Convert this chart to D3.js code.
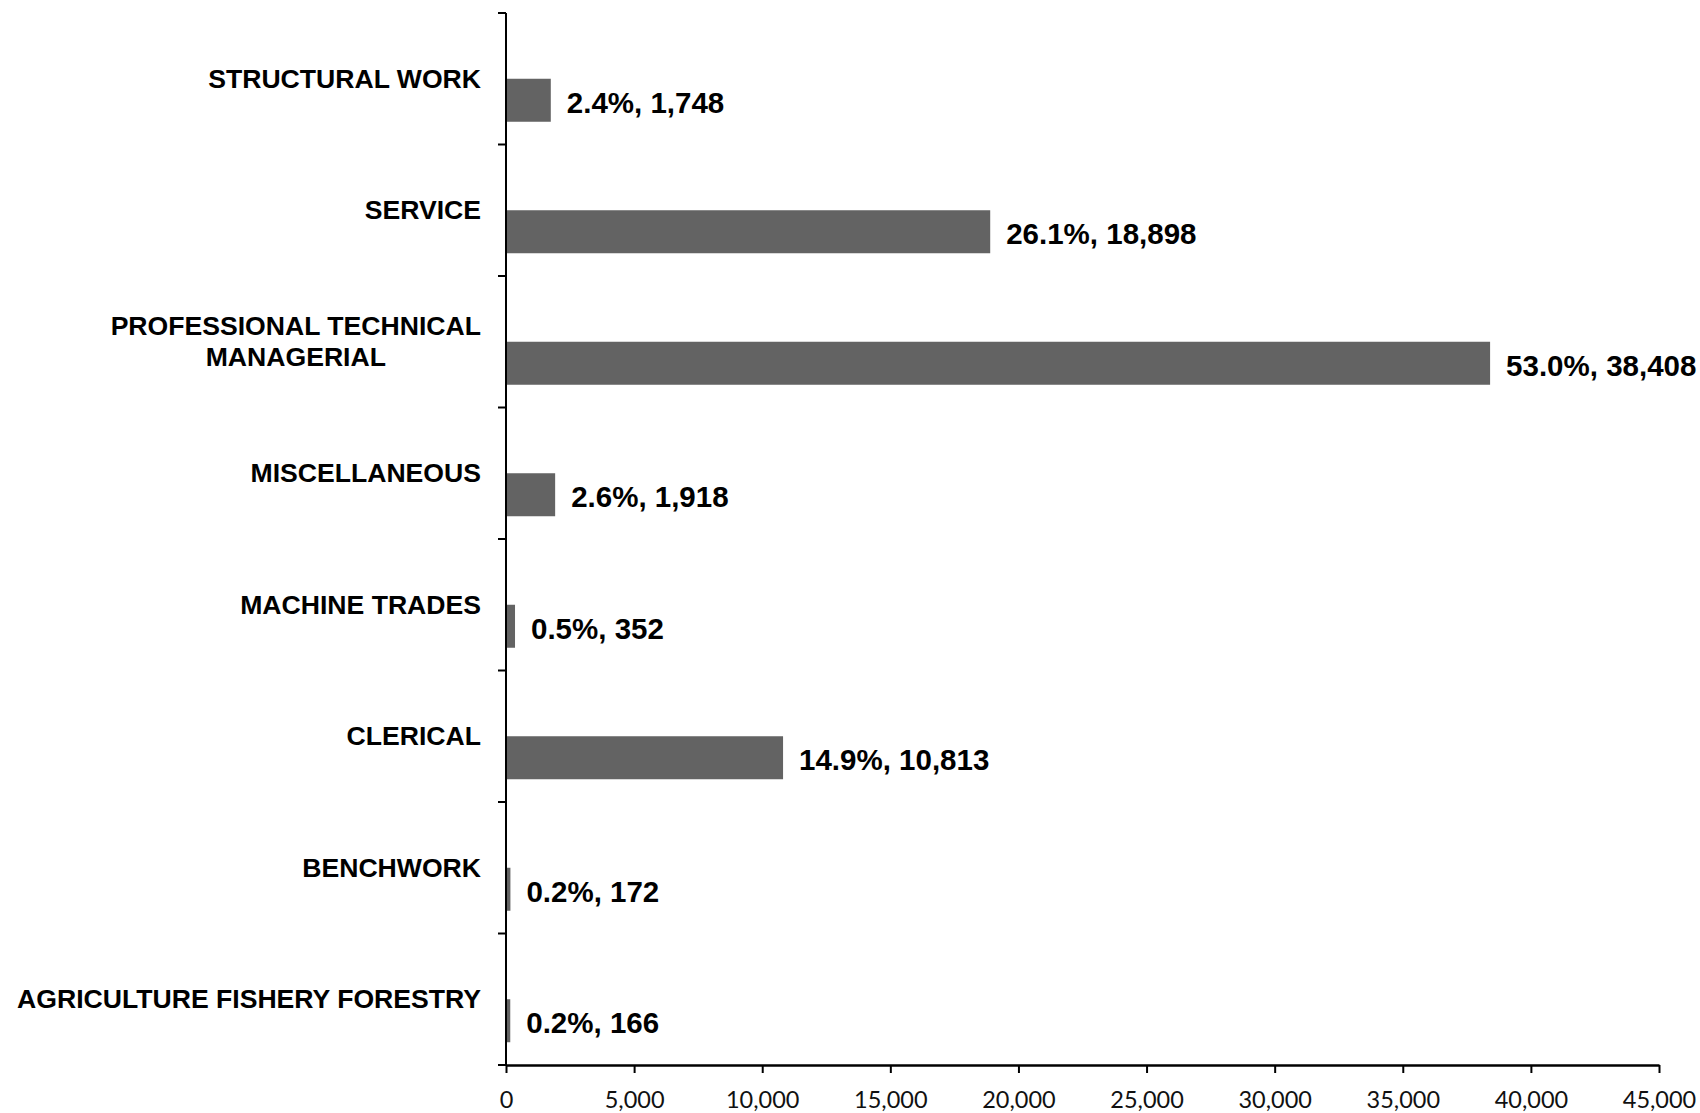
<!DOCTYPE html>
<html>
<head>
<meta charset="utf-8">
<script src="https://cdn.jsdelivr.net/npm/d3@7"></script>
<style>
  html, body { margin: 0; padding: 0; background: #fff; }
  svg { display: block; }
</style>
</head>
<body>
<svg id="chart" width="1700" height="1113"></svg>
<script>
const categories = [
  "STRUCTURAL WORK",
  "SERVICE",
  "PROFESSIONAL TECHNICAL MANAGERIAL",
  "MISCELLANEOUS",
  "MACHINE TRADES",
  "CLERICAL",
  "BENCHWORK",
  "AGRICULTURE FISHERY FORESTRY"
];
const categoryLines = [
  ["STRUCTURAL WORK"],
  ["SERVICE"],
  ["PROFESSIONAL TECHNICAL", "MANAGERIAL"],
  ["MISCELLANEOUS"],
  ["MACHINE TRADES"],
  ["CLERICAL"],
  ["BENCHWORK"],
  ["AGRICULTURE FISHERY FORESTRY"]
];
const values = [1748, 18898, 38408, 1918, 352, 10813, 172, 166];
const percents = ["2.4%", "26.1%", "53.0%", "2.6%", "0.5%", "14.9%", "0.2%", "0.2%"];
const xTicks = [0, 5000, 10000, 15000, 20000, 25000, 30000, 35000, 40000, 45000];

const svg = d3.select("#chart");
const mLeft = 506, mRight = 1659, mTop = 13, mBottom = 1065;

const x = d3.scaleLinear().domain([0, 45000]).range([mLeft, mRight]);
const y = d3.scaleBand().domain(categories).range([mTop, mBottom]).paddingInner(0).paddingOuter(0);
const bw = y.bandwidth();
const barH = bw * 0.327;

// bars
svg.append("g").selectAll("rect").data(categories).join("rect")
  .attr("x", x(0))
  .attr("y", d => y(d) + bw / 2)
  .attr("width", (d, i) => x(values[i]) - x(0))
  .attr("height", barH)
  .attr("fill", "#636363");

// value labels
svg.append("g").selectAll("text").data(categories).join("text")
  .attr("x", (d, i) => x(values[i]) + 16)
  .attr("y", d => y(d) + bw / 2 + barH / 2 + 2)
  .attr("dominant-baseline", "central")
  .attr("font-family", "'Liberation Sans', Arial, sans-serif")
  .attr("font-weight", "bold")
  .attr("font-size", 29.5)
  .attr("fill", "#000")
  .text((d, i) => percents[i] + ", " + d3.format(",")(values[i]));

// x axis
const xAxis = svg.append("g").attr("transform", `translate(0,${mBottom})`)
  .call(d3.axisBottom(x).tickValues(xTicks).tickFormat(d3.format(",")).tickSize(8).tickSizeOuter(0));
xAxis.select(".domain").attr("stroke", "#000").attr("stroke-width", 2.5);
xAxis.selectAll(".tick line").attr("stroke", "#000").attr("stroke-width", 2);
xAxis.selectAll(".tick text")
  .attr("font-family", "Lato, 'Open Sans', sans-serif")
  .attr("font-size", 23.5)
  .attr("fill", "#111")
  .attr("dy", "0.71em")
  .attr("y", 26);

// y axis line with ticks at band boundaries
const yAxis = svg.append("g");
yAxis.append("line")
  .attr("x1", mLeft).attr("x2", mLeft)
  .attr("y1", mTop).attr("y2", mBottom)
  .attr("stroke", "#000").attr("stroke-width", 2);
const boundaries = categories.map(c => y(c)).concat([mBottom]);
yAxis.selectAll("line.tk").data(boundaries).join("line")
  .attr("class", "tk")
  .attr("x1", mLeft - 8).attr("x2", mLeft)
  .attr("y1", d => d).attr("y2", d => d)
  .attr("stroke", "#000").attr("stroke-width", 2);

// category labels
const labelRight = 481;
const lineH = 31;
categories.forEach((c, i) => {
  const lines = categoryLines[i];
  const cy = y(c) + bw / 2;
  const g = svg.append("g");
  const t = g.append("text")
    .attr("font-family", "'Liberation Sans', Arial, sans-serif")
    .attr("font-weight", "bold")
    .attr("font-size", 26.6)
    .attr("fill", "#000");
  lines.forEach((ln, j) => {
    t.append("tspan")
      .attr("y", cy + (j - (lines.length - 1) / 2) * lineH)
      .attr("dominant-baseline", "central")
      .text(ln);
  });
  if (lines.length === 1) {
    t.attr("text-anchor", "end");
    t.selectAll("tspan").attr("x", labelRight);
  } else {
    let maxW = 0;
    t.selectAll("tspan").each(function() { maxW = Math.max(maxW, this.getComputedTextLength()); });
    t.attr("text-anchor", "middle");
    t.selectAll("tspan").attr("x", labelRight - maxW / 2);
  }
});
</script>
</body>
</html>
